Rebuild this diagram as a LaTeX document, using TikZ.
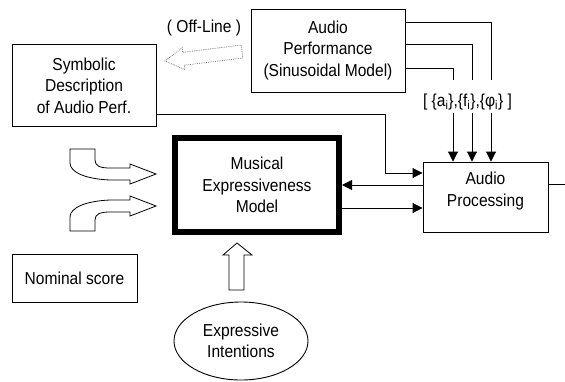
\documentclass[tikz,border=0pt]{standalone}
\usepackage{fontspec}
\setmainfont{Liberation Sans}[FakeStretch=0.9]
\usetikzlibrary{arrows.meta,shapes.geometric}

\tikzset{
  blk/.style={draw, line width=0.9pt, align=center, inner sep=0pt},
  wire/.style={line width=0.9pt},
  tip/.style={-{Triangle[length=10pt,width=10pt]}},
  fat/.style={draw, line width=0.8pt, fill=white},
}

\begin{document}
\begin{tikzpicture}[x=1pt,y=-1pt,font=\fontsize{17.3}{21.5}\selectfont]
	\useasboundingbox (0,0) rectangle (565,381);

	% blocks
	\node[blk, minimum width=144, minimum height=82] (sym) at (84,85.5) {Symbolic\\Description\\of Audio Perf.};
	\node[blk, minimum width=154, minimum height=83] (perf) at (328,50.5) {Audio\\Performance\\(Sinusoidal Model)};
	\node[blk, line width=6pt, minimum width=164, minimum height=94] (mem) at (257,185) {Musical\\Expressiveness\\Model};
	\node[blk, minimum width=125, minimum height=70,
		label={[align=center, yshift=6]center:Audio\\Processing}] (ap) at (485.5,197) {};
	\node[blk, minimum width=125, minimum height=48] (nom) at (74.5,278) {Nominal score};
	\node[ellipse, draw, line width=0.9pt, minimum width=134, minimum height=78, inner sep=0pt, align=center] (ell) at (241,341) {Expressive\\Intentions};
	\node (off) at (204,28) {( Off-Line )};
	\node (par) at (467.5,102) {[ \{a\textsubscript{i}\},\{f\textsubscript{i}\},\{φ\textsubscript{i}\} ]};
	\coordinate (out) at (565,184);

	% connectors
	\draw[wire, tip] (sym.east |- 0,114) -| (385,173) -- (ap.west |- 0,173);
	\draw[wire, tip] (ap.west |- 0,185) -- (mem.east |- 0,185);
	\draw[wire, tip] (mem.east |- 0,208) -- (ap.west |- 0,208);
	\draw[wire] (ap.east |- out) -- (out);
	\foreach \y/\x in {22/491,44/472,68/453}{
		\draw[wire] (perf.east |- 0,\y) -| (\x,80);
		\draw[wire, tip] (\x,113) -- (ap.north -| \x,0);
	}

	% block arrows
	\draw[fat] (70,149) -- (95,149) -- (95,160) .. controls (95,166) and (100,168) .. (110,168) -- (130,168) -- (130,164) -- (156,174) -- (130,184) -- (130,180) -- (110,180) .. controls (85,179) and (70,172) .. (70,163) -- cycle;
	\draw[fat] (70,231) -- (95,231) -- (95,220) .. controls (95,214) and (100,212) .. (110,212) -- (130,212) -- (130,216) -- (156,206) -- (130,196) -- (130,200) -- (110,200) .. controls (85,201) and (70,208) .. (70,217) -- cycle;
	\draw[fat] (229,290) -- (229,255) -- (223,255) -- (237,243) -- (252,255) -- (244,255) -- (244,290) -- cycle;
	\draw[gray, densely dotted, line width=0.8pt] (241.2,45.1) -- (182.7,52.3) -- (182.2,47.8) -- (165,61) -- (184.8,69.6) -- (184.3,65.2) -- (242.8,58) -- cycle;
\end{tikzpicture}
\end{document}
